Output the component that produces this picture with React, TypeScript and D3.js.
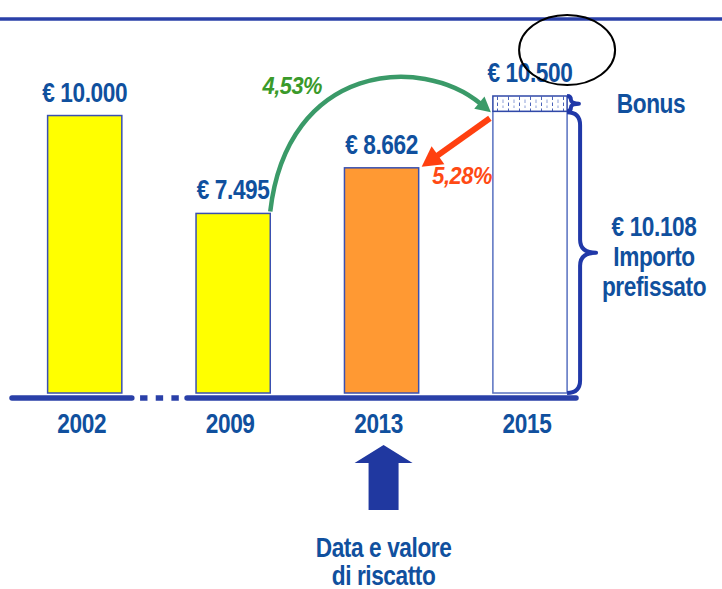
import React from "react";
import * as d3 from "d3";

// ---- data ----
const years = ["2002", "2009", "2013", "2015"];
const values = [10000, 7495, 8662, 10500];
const barFills = ["#ffff00", "#ffff00", "#ff9933", "#ffffff"];
const fixedAmount = 10108; // Importo prefissato
const growthRate = "4,53%";
const discountRate = "5,28%";
const bonusText = "Bonus";
const fixedText = ["Importo", "prefissato"];
const bottomText = ["Data e valore", "di riscatto"];

const W = 722;
const H = 589;
const BLUE_TEXT = "#10509e";
const BLUE_LINE = "#2a40a8";
const FONT = "'Liberation Sans', Arial, sans-serif";

const it = d3.formatLocale({
  decimal: ",",
  thousands: ".",
  grouping: [3],
  currency: ["€ ", ""],
});
const euro = it.format("$,.0f");

function brace(x: number, y0: number, y1: number, tip: number, r: number) {
  const m = (y0 + y1) / 2;
  return `M${x},${y0} Q${x + r},${y0} ${x + r},${y0 + r} L${x + r},${m - r} Q${x + r},${m} ${x + r + tip},${m} Q${x + r},${m} ${x + r},${m + r} L${x + r},${y1 - r} Q${x + r},${y1} ${x},${y1}`;
}

function Label({ x, y, text, size = 27, color = BLUE_TEXT, sx = 0.84, italic = false, anchor = "middle" }: any) {
  return (
    <text
      transform={`translate(${x},${y}) scale(${sx},1)`}
      textAnchor={anchor}
      fontFamily={FONT}
      fontWeight="bold"
      fontStyle={italic ? "italic" : "normal"}
      fontSize={size}
      fill={color}
      letterSpacing={-0.5}
    >
      {text}
    </text>
  );
}

export default function App() {
  const baseY = 393;
  const x = d3
    .scaleBand()
    .domain(years)
    .range([12, 576])
    .paddingInner(0.5)
    .paddingOuter(0.15)
    .align(0.8);
  const y = d3.scaleLinear().domain([2900, 10500]).range([baseY, 96]);
  const bw = x.bandwidth();

  // axis break between first and second category
  const breakStart = (x(years[0]) as number) + bw + 10;
  const breakEnd = (x(years[1]) as number) - 9;
  const nDash = 3;
  const unit = (breakEnd - breakStart) / (nDash * 0.9 + (nDash + 1));
  const dashes = d3.range(nDash).map((i) => {
    const s = breakStart + unit + i * (unit * 0.9 + unit);
    return [s, s + unit * 0.9];
  });

  const x15 = x(years[3]) as number;
  const x13 = x(years[2]) as number;
  const x09 = x(years[1]) as number;

  // green arc
  const g0: [number, number] = [x09 + bw, y(values[1]) - 2];
  const gT: [number, number] = [x15 - 2, y(fixedAmount) + 1];
  const peak = y(values[3]) - 10;
  const gP1: [number, number] = [g0[0] + 17, peak - 22];
  const gP2: [number, number] = [gT[0] - 70, peak - 32];
  let gd = [gT[0] - gP2[0], gT[1] - gP2[1]];
  let gl = Math.hypot(gd[0], gd[1]);
  gd = [gd[0] / gl, gd[1] / gl];
  const gHead = 15;
  const gEnd = [gT[0] - gd[0] * (gHead - 2), gT[1] - gd[1] * (gHead - 2)];
  const gBase = [gT[0] - gd[0] * gHead, gT[1] - gd[1] * gHead];
  const gPerp = [-gd[1], gd[0]];
  const gHeadPts = [
    gT,
    [gBase[0] + gPerp[0] * 8, gBase[1] + gPerp[1] * 8],
    [gBase[0] - gPerp[0] * 8, gBase[1] - gPerp[1] * 8],
  ];

  // red arrow
  const r0 = [x15 - 3, y(fixedAmount) + 7];
  const rT = [x13 + bw + 3, y(values[2]) - 1];
  let rd = [rT[0] - r0[0], rT[1] - r0[1]];
  const rl = Math.hypot(rd[0], rd[1]);
  rd = [rd[0] / rl, rd[1] / rl];
  const rHead = 20;
  const rBase = [rT[0] - rd[0] * rHead, rT[1] - rd[1] * rHead];
  const rPerp = [-rd[1], rd[0]];
  const rHeadPts = [
    rT,
    [rBase[0] + rPerp[0] * 11, rBase[1] + rPerp[1] * 11],
    [rBase[0] - rPerp[0] * 11, rBase[1] - rPerp[1] * 11],
  ];

  const barRight = x15 + bw;
  const bonusTop = y(values[3]);
  const bonusBot = y(fixedAmount);
  const bonusMid = (bonusTop + bonusBot) / 2;
  const bigTop = bonusBot + 1;
  const bigMid = (bigTop + baseY) / 2;

  const arrowCx = x13 + bw / 2 + 2;

  return (
    <svg width={W} height={H} style={{ position: "absolute", left: 0, top: 0, background: "#fff" }}>
      <defs>
        <pattern id="hatch" width="11" height="12" patternUnits="userSpaceOnUse">
          <rect width="11" height="12" fill="#fff" />
          <line x1="2.5" y1="0.5" x2="2.5" y2="4" stroke="#4a62b8" strokeWidth="1" />
          <line x1="2.5" y1="6.5" x2="2.5" y2="10" stroke="#4a62b8" strokeWidth="1" />
          <line x1="8" y1="3.5" x2="8" y2="7" stroke="#8da0d8" strokeWidth="1" />
          <line x1="8" y1="9.5" x2="8" y2="13" stroke="#8da0d8" strokeWidth="1" />
        </pattern>
      </defs>

      {/* header rule */}
      <line x1={0} x2={W} y1={19} y2={19} stroke={BLUE_LINE} strokeWidth={3.5} />

      {/* bars */}
      {years.map((yr, i) => {
        if (i === 3) return null;
        return (
          <rect
            key={yr}
            x={x(yr)}
            y={y(values[i])}
            width={bw}
            height={baseY - y(values[i])}
            fill={barFills[i]}
            stroke="#3a50b0"
            strokeWidth={1.5}
          />
        );
      })}
      {/* 2015 stacked bar: fixed amount + bonus */}
      <rect x={x15} y={bonusBot} width={bw} height={baseY - bonusBot} fill={barFills[3]} stroke="#5870c0" strokeWidth={1.5} />
      <rect x={x15} y={bonusTop} width={bw} height={bonusBot - bonusTop} fill="url(#hatch)" stroke="#3048a8" strokeWidth={1.5} />

      {/* baseline with break */}
      <line x1={x.range()[0]} x2={breakStart} y1={398} y2={398} stroke={BLUE_LINE} strokeWidth={5.5} strokeLinecap="round" />
      {dashes.map(([a, b], i) => (
        <line key={i} x1={a} x2={b} y1={398} y2={398} stroke={BLUE_LINE} strokeWidth={5.5} />
      ))}
      <line x1={breakEnd} x2={x.range()[1]} y1={398} y2={398} stroke={BLUE_LINE} strokeWidth={5.5} strokeLinecap="round" />

      {/* value labels */}
      {years.map((yr, i) => (
        <Label key={yr} x={(x(yr) as number) + bw / 2} y={y(values[i]) - 14} text={euro(values[i])} />
      ))}

      {/* year labels */}
      {years.map((yr) => (
        <Label key={yr} x={(x(yr) as number) + bw / 2 - 3} y={433} text={yr} />
      ))}

      {/* braces */}
      <path d={brace(barRight, bonusTop, bonusBot, 8, Math.min(6, (bonusBot - bonusTop) / 4))} fill="none" stroke="#2038a8" strokeWidth={4} strokeLinejoin="round" />
      <path d={brace(barRight, bigTop, baseY, 16, 13)} fill="none" stroke="#2038a8" strokeWidth={4} strokeLinejoin="round" />

      <Label x={651} y={bonusMid + 9} text={bonusText} />
      <Label x={654} y={bigMid - 17} text={euro(fixedAmount)} />
      <Label x={654} y={bigMid + 13} text={fixedText[0]} />
      <Label x={654} y={bigMid + 43} text={fixedText[1]} />

      {/* green growth arc */}
      <path
        d={`M${g0[0]},${g0[1]} C${gP1[0]},${gP1[1]} ${gP2[0]},${gP2[1]} ${gEnd[0]},${gEnd[1]}`}
        fill="none"
        stroke="#3a9a68"
        strokeWidth={4.5}
      />
      <polygon points={gHeadPts.map((p) => p.join(",")).join(" ")} fill="#3a9a68" />
      <Label x={g0[0] + 22} y={peak + 8} text={growthRate} size={23} sx={0.95} italic color="#3a9a2a" />

      {/* red discount arrow */}
      <line x1={r0[0]} y1={r0[1]} x2={rBase[0] + rd[0] * 2} y2={rBase[1] + rd[1] * 2} stroke="#ff4010" strokeWidth={6} />
      <polygon points={rHeadPts.map((p) => p.join(",")).join(" ")} fill="#ff4010" />
      <Label x={x15 - 1} y={y(values[2]) + 16} text={discountRate} size={23} sx={0.95} italic color="#ff4a14" anchor="end" />

      {/* highlight ellipse */}
      <ellipse cx={barRight} cy={50} rx={48} ry={35} fill="none" stroke="#000" strokeWidth={2} />

      {/* up arrow */}
      <polygon
        points={[
          [arrowCx, 445],
          [arrowCx + 29, 463],
          [arrowCx + 15, 463],
          [arrowCx + 15, 510],
          [arrowCx - 15, 510],
          [arrowCx - 15, 463],
          [arrowCx - 29, 463],
        ]
          .map((p) => p.join(","))
          .join(" ")}
        fill="#2038a0"
      />
      <Label x={arrowCx} y={557} text={bottomText[0]} />
      <Label x={arrowCx} y={585} text={bottomText[1]} />
    </svg>
  );
}
